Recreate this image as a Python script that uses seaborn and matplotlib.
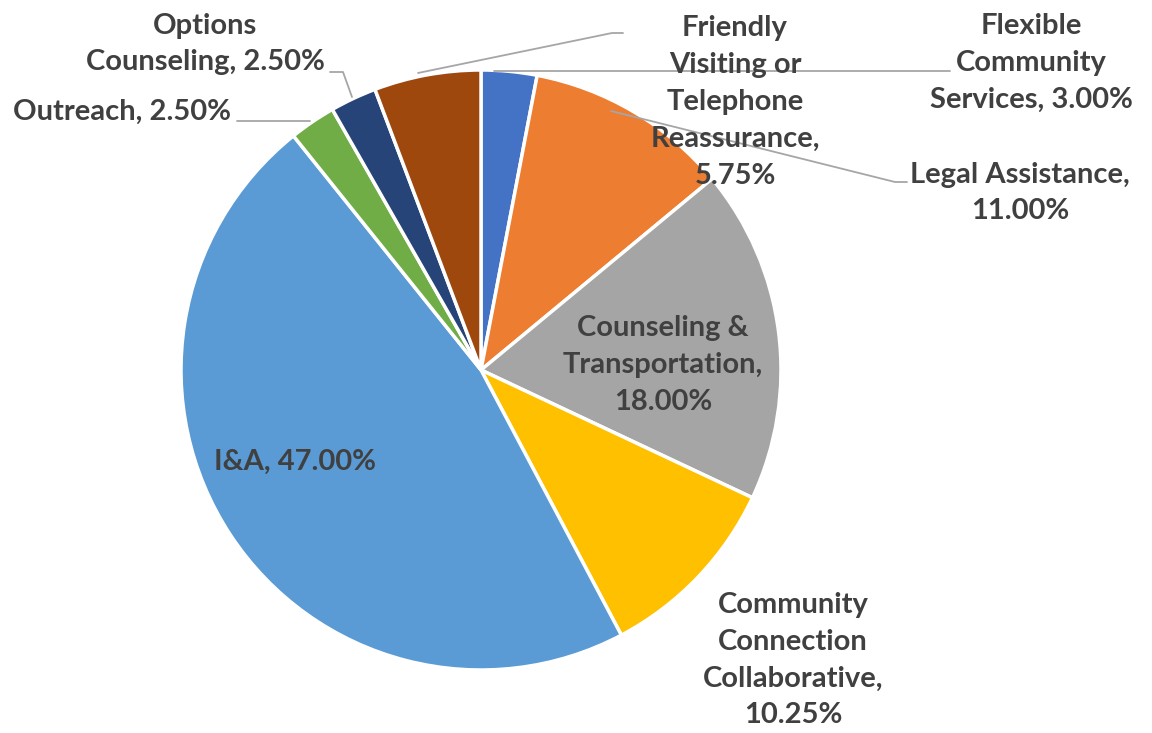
import matplotlib
matplotlib.use("Agg")
import matplotlib.pyplot as plt
import seaborn as sns

sns.set_theme(style="white")
plt.rcParams['font.family'] = ['Lato', 'DejaVu Sans']

categories = ["Flexible Community Services", "Legal Assistance", "Counseling & Transportation",
              "Community Connection Collaborative", "I&A", "Outreach", "Options Counseling",
              "Friendly Visiting or Telephone Reassurance"]
values = [3.00, 11.00, 18.00, 10.25, 47.00, 2.50, 2.50, 5.75]
colors = ["#4472C4", "#ED7D31", "#A5A5A5", "#FFC000", "#5B9BD5", "#70AD47", "#264478", "#9E480E"]
label_texts = ["Flexible\nCommunity\nServices, 3.00%", "Legal Assistance,\n11.00%",
               "Counseling &\nTransportation,\n18.00%", "Community\nConnection\nCollaborative,\n10.25%",
               "I&A, 47.00%", "Outreach, 2.50%", "Options\nCounseling, 2.50%",
               "Friendly\nVisiting or\nTelephone\nReassurance,\n5.75%"]

W, H = 1152, 733
fig = plt.figure(figsize=(W / 100, H / 100), dpi=100)
ax = fig.add_axes([0, 0, 1, 1])

cx, cy, r = 481, H - 370, 300
ax.pie(values, colors=colors, startangle=90, counterclock=False,
       center=(cx, cy), radius=r, frame=True,
       wedgeprops=dict(edgecolor="white", linewidth=2.5))
ax.set_xlim(0, W)
ax.set_ylim(0, H)
ax.set_aspect("equal")
ax.axis("off")

tc = "#404040"
fs = 21
# label positions (pixel coords, top-origin)
layout = [
    (1031, 63),
    (1020, 193),
    (663, 365),
    (793, 660),
    (295, 462),
    (122, 112),
    (205, 44),
    (735, 102),
]
for txt, (x, y) in zip(label_texts, layout):
    ax.text(x, H - y, txt, ha="center", va="center", fontsize=fs, fontweight="bold",
            color=tc, linespacing=1.52, zorder=5)

leaders = [
    [(494, 71), (950, 71)],
    [(611, 111), (895, 182), (907, 182)],
    [(310, 121), (237, 121)],
    [(352, 97), (343, 72), (330, 72)],
    [(418, 73), (612, 33), (623, 33)],
]
for pts in leaders:
    xs = [p[0] for p in pts]
    ys = [H - p[1] for p in pts]
    ax.plot(xs, ys, color="#A6A6A6", linewidth=1.3, zorder=4)

fig.savefig("out.png", dpi=100)
